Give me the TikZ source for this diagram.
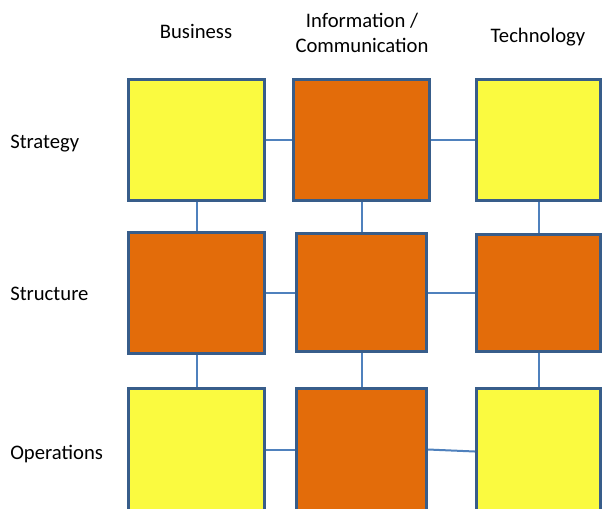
\documentclass[tikz,border=0pt]{standalone}
\usepackage{fontspec}
\setmainfont{Carlito}
\definecolor{cellyellow}{HTML}{FAFA40}
\definecolor{cellorange}{HTML}{E36C0A}
\definecolor{cellline}{HTML}{385D8A}
\definecolor{linkline}{HTML}{4F81BD}
\tikzset{
  cell/.style 2 args={draw=cellline, line width=2.25pt, inner sep=0pt,
    minimum width=#1*0.75pt, minimum height=#2*0.75pt},
  yellowcell/.style={fill=cellyellow},
  orangecell/.style={fill=cellorange},
  link/.style={draw=linkline, line width=1.5pt},
  label/.style={inner sep=0pt, font=\fontsize{15.5}{18.75}\selectfont}
}
\begin{document}
\begin{tikzpicture}[x=0.75pt, y=-0.75pt]
            \clip (0,0) rectangle (602,508);
            \fill[white] (0,0) rectangle (602,508);
            % column and row headings
            \node[label, anchor=base] (business) at (196,38) {Business};
            \node[label, align=center, anchor=base] (info) at (362,52) {Information /\\Communication};
            \node[label, anchor=base] (tech) at (538,42) {Technology};
            \node[label, anchor=base west] (strategy) at (10,148) {Strategy};
            \node[label, anchor=base west] (structure) at (10,300) {Structure};
            \node[label, anchor=base west] (operations) at (10,459) {Operations};
            % cells
            \node[cell={136}{121}, yellowcell] (A1) at (196.5,140) {};
            \node[cell={136}{121}, orangecell] (B1) at (361.5,140) {};
            \node[cell={124}{121}, yellowcell] (C1) at (538.5,140) {};
            \node[cell={136}{121}, orangecell] (A2) at (196.5,292.5) {};
            \node[cell={130}{118}, orangecell] (B2) at (361.5,292.5) {};
            \node[cell={124}{117}, orangecell] (C2) at (538.5,292.5) {};
            \node[cell={136}{122}, yellowcell] (A3) at (196.5,449.5) {};
            \node[cell={130}{122}, orangecell] (B3) at (361.5,449.5) {};
            \node[cell={124}{122}, yellowcell] (C3) at (538.5,449.5) {};
            % links
            \draw[link] (A1) -- (B1);
            \draw[link] (B1) -- (C1);
            \draw[link] (A2) -- (B2);
            \draw[link] (B2) -- (C2);
            \draw[link] (A3) -- (B3);
            \draw[link] (B3.east) -- ([yshift=-1.5pt]C3.west);
            \draw[link] (A1) -- (A2);
            \draw[link] (B1) -- (B2);
            \draw[link] (C1) -- (C2);
            \draw[link] (A2) -- (A3);
            \draw[link] (B2) -- (B3);
            \draw[link] (C2) -- (C3);
\end{tikzpicture}
\end{document}
